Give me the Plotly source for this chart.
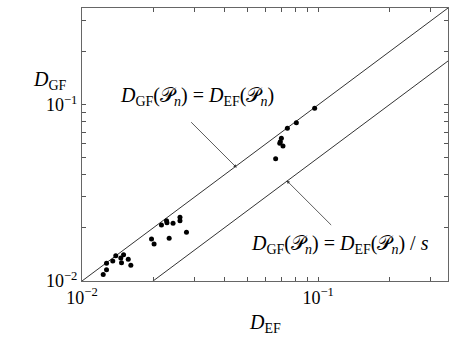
import numpy as np
import plotly.graph_objects as go

# Data
d_ef = [0.0123, 0.0127, 0.0127, 0.0135, 0.0139, 0.0146, 0.0150, 0.0147, 0.0157, 0.0161,
        0.0197, 0.0202, 0.0217, 0.0228, 0.0229, 0.0243, 0.0234, 0.0260, 0.0260, 0.0277,
        0.0967, 0.0809, 0.0741, 0.0699, 0.0692, 0.0710, 0.0688, 0.0661]
d_gf = [0.0109, 0.0116, 0.0126, 0.0130, 0.0139, 0.0135, 0.0141, 0.0127, 0.0133, 0.0123,
        0.0173, 0.0162, 0.0208, 0.0220, 0.0214, 0.0213, 0.0175, 0.0230, 0.0220, 0.0189,
        0.0958, 0.0793, 0.0737, 0.0647, 0.0618, 0.0585, 0.0606, 0.0495]
s = 2.0
x_range = [0.01, 0.355]
y_range = [0.01, 0.355]
major_ticks = [0.01, 0.1]
major_text = ["10<sup>\u22122</sup>", "10<sup>\u22121</sup>"]
minor_ticks = [0.02, 0.03, 0.04, 0.05, 0.06, 0.07, 0.08, 0.09, 0.2, 0.3]

FONT = "Liberation Serif"
P = "\U0001D4AB"
L = np.log10

fig = go.Figure()
line_x = [x_range[0], x_range[1]]
fig.add_trace(go.Scatter(x=line_x, y=line_x, mode="lines",
                         line=dict(color="#333333", width=1), showlegend=False))
fig.add_trace(go.Scatter(x=line_x, y=[v / s for v in line_x], mode="lines",
                         line=dict(color="#333333", width=1), showlegend=False))
fig.add_trace(go.Scatter(x=d_ef, y=d_gf, mode="markers",
                         marker=dict(color="black", size=5), showlegend=False))

tickvals = major_ticks + minor_ticks
ticktext = major_text + [""] * len(minor_ticks)
axis_common = dict(type="log", tickvals=tickvals, ticktext=ticktext, ticks="inside",
                   ticklen=4, tickcolor="#555555", showline=True, linecolor="#666666",
                   linewidth=1, mirror="ticks", showgrid=False, zeroline=False,
                   tickfont=dict(family=FONT, size=18, color="black"))
fig.update_xaxes(range=[L(x_range[0]), L(x_range[1])], **axis_common)
fig.update_yaxes(range=[L(y_range[0]), L(y_range[1])], **axis_common)

fig.add_annotation(text="<i>D</i><sub>EF</sub>", xref="paper", yref="paper",
                   x=0.5, y=-0.155, xanchor="center", yanchor="middle", showarrow=False,
                   font=dict(family=FONT, size=20, color="black"))
fig.add_annotation(text="<i>D</i><sub>GF</sub>", xref="paper", yref="paper",
                   x=-0.035, y=0.735, xanchor="right", yanchor="middle", showarrow=False,
                   font=dict(family=FONT, size=20, color="black"))

# pointer arrows (no text)
fig.add_annotation(text="", x=L(0.0452), y=L(0.0440), xref="x", yref="y",
                   ax=-47, ay=-47, showarrow=True, arrowhead=2, arrowsize=0.8,
                   arrowwidth=0.8, arrowcolor="#333333", standoff=0)
fig.add_annotation(text="", x=L(0.0736), y=L(0.0372), xref="x", yref="y",
                   ax=46, ay=46, showarrow=True, arrowhead=2, arrowsize=0.8,
                   arrowwidth=0.8, arrowcolor="#333333", standoff=0)

# labels
fig.add_annotation(text=f"<i>D</i><sub>GF</sub>({P}<sub><i>n</i></sub>) = <i>D</i><sub>EF</sub>({P}<sub><i>n</i></sub>)",
                   x=L(0.0306), y=L(0.111), xref="x", yref="y", showarrow=False,
                   xanchor="center", yanchor="middle",
                   font=dict(family=FONT, size=20, color="black"))
fig.add_annotation(text=f"<i>D</i><sub>GF</sub>({P}<sub><i>n</i></sub>) = <i>D</i><sub>EF</sub>({P}<sub><i>n</i></sub>) / <i>s</i>",
                   x=L(0.1233), y=L(0.0162), xref="x", yref="y", showarrow=False,
                   xanchor="center", yanchor="middle",
                   font=dict(family=FONT, size=20, color="black"))

fig.update_layout(width=452, height=340, margin=dict(l=82, r=4, t=8, b=59),
                  plot_bgcolor="white", paper_bgcolor="white",
                  font=dict(family=FONT, color="black"))
fig.write_html("out.html")
